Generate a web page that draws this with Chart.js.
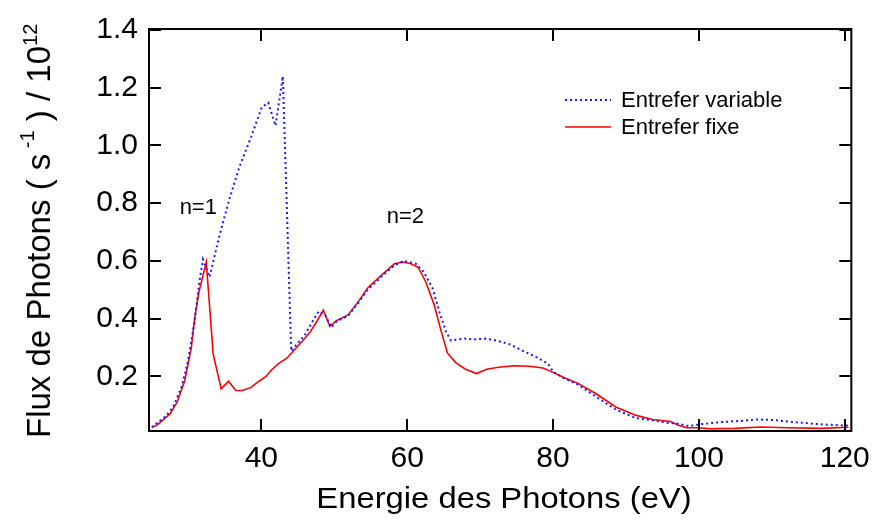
<!DOCTYPE html>
<html>
<head>
<meta charset="utf-8">
<script src="https://cdn.jsdelivr.net/npm/chart.js@4/dist/chart.umd.min.js"></script>
<style>
  html, body { margin: 0; padding: 0; background: #fff; }
  #chart { display: block; }
</style>
</head>
<body>
<canvas id="chart" width="880" height="525"></canvas>
<script>
/* ===============================
   DATA
   =============================== */
const energyVariable = [25.0, 25.5, 26.8, 27.9, 29.05, 29.95, 30.85, 31.5, 32.0, 32.9, 34.25, 35.6, 37.0, 38.6,
  40.05, 40.95, 41.95, 42.95, 44.1, 44.65, 46.0, 46.9, 47.85, 48.75, 49.6, 50.3, 51.9, 53.3, 54.6, 56.45, 58.25,
  59.6, 61.2, 62.3, 63.5, 64.4, 65.3, 66.0, 67.8, 69.1, 70.7, 72.3, 74.1, 75.9, 77.7, 79.3, 80.0, 81.4, 83.4,
  85.9, 88.6, 91.3, 93.6, 95.8, 97.2, 98.6, 100.4, 103.1, 105.8, 108.1, 110.3, 113.0, 116.2, 119.8, 120.5];
const fluxVariable = [0.024, 0.035, 0.06, 0.094, 0.162, 0.254, 0.39, 0.527, 0.605, 0.544, 0.687, 0.812, 0.926, 1.029,
  1.131, 1.148, 1.068, 1.239, 0.288, 0.305, 0.345, 0.385, 0.425, 0.413, 0.37, 0.39, 0.41, 0.455, 0.5, 0.545, 0.585,
  0.6, 0.59, 0.561, 0.504, 0.425, 0.356, 0.324, 0.331, 0.328, 0.331, 0.324, 0.311, 0.288, 0.267, 0.244, 0.217, 0.195, 0.172,
  0.13, 0.085, 0.056, 0.048, 0.039, 0.036, 0.028, 0.035, 0.042, 0.046, 0.051, 0.049, 0.042, 0.035, 0.030, 0.030];

const energyFixe = [25.0, 25.65, 26.5, 27.5, 28.45, 29.5, 30.4, 30.85, 31.45, 32.45, 33.4, 34.5, 35.5, 36.5, 37.4,
  38.6, 39.5, 40.6, 41.5, 42.4, 43.5, 44.4, 45.6, 46.6, 47.6, 48.5, 49.4, 50.3, 51.9, 53.3, 54.6, 56.45, 58.25,
  59.4, 60.5, 61.5, 62.55, 63.7, 64.6, 65.5, 66.65, 68.0, 69.5, 70.9, 72.3, 74.55, 76.8, 78.6, 80.0, 81.4, 83.4,
  85.9, 88.6, 91.3, 93.6, 96.1, 97.2, 98.35, 99.8, 101.7, 104.9, 108.5, 112.1, 116.7, 120.5];
const fluxFixe = [0.024, 0.031, 0.049, 0.071, 0.111, 0.185, 0.299, 0.40, 0.493, 0.596, 0.277, 0.157, 0.183, 0.151, 0.151,
  0.162, 0.18, 0.199, 0.225, 0.245, 0.263, 0.288, 0.322, 0.35, 0.39, 0.43, 0.373, 0.393, 0.413, 0.459, 0.507, 0.55, 0.59,
  0.596, 0.59, 0.578, 0.527, 0.448, 0.362, 0.282, 0.248, 0.225, 0.21, 0.225, 0.231, 0.237, 0.235, 0.229, 0.214, 0.197, 0.176,
  0.14, 0.094, 0.066, 0.051, 0.044, 0.031, 0.022, 0.022, 0.019, 0.02, 0.025, 0.022, 0.02, 0.024];

const xTicks = [40, 60, 80, 100, 120];
const yTicks = [0.2, 0.4, 0.6, 0.8, 1.0, 1.2, 1.4];

const seriesNames = ["Entrefer variable", "Entrefer fixe"];
const peakLabels = [
  { text: "n=1", x: 28.8, y: 0.785 },
  { text: "n=2", x: 57.2, y: 0.752 }
];

const BLUE = "#1a1aff";
const RED = "#ff0000";
const FONT = "'Liberation Sans', Arial, sans-serif";

const toPoints = (xs, ys) => xs.map((x, i) => ({ x, y: ys[i] }));

/* ===============================
   FRAME + INWARD TICKS
   =============================== */
const framePlugin = {
  id: "frame",
  afterDraw(c) {
    const { ctx, chartArea: a, scales } = c;
    ctx.save();
    ctx.strokeStyle = "#000";
    ctx.lineWidth = 2;
    ctx.strokeRect(a.left, a.top, a.right - a.left, a.bottom - a.top);
    const len = 12;
    ctx.beginPath();
    xTicks.forEach(v => {
      const px = Math.round(scales.x.getPixelForValue(v));
      ctx.moveTo(px, a.bottom); ctx.lineTo(px, a.bottom - len);
      ctx.moveTo(px, a.top); ctx.lineTo(px, a.top + len);
    });
    yTicks.forEach(v => {
      const py = Math.round(scales.y.getPixelForValue(v));
      ctx.moveTo(a.left, py); ctx.lineTo(a.left + len, py);
      ctx.moveTo(a.right, py); ctx.lineTo(a.right - len, py);
    });
    ctx.stroke();
    ctx.restore();
  }
};

/* ===============================
   TITLES, LEGEND, ANNOTATIONS
   =============================== */
const textPlugin = {
  id: "texts",
  afterDraw(c) {
    const { ctx, scales } = c;
    ctx.save();
    ctx.fillStyle = "#000";
    ctx.textBaseline = "alphabetic";

    // x title, a bit wide like the original
    ctx.save();
    ctx.translate(504, 508);
    ctx.scale(1.13, 1);
    ctx.font = `29px ${FONT}`;
    ctx.textAlign = "center";
    ctx.fillText("Energie des Photons (eV)", 0, 0);
    ctx.restore();

    // y title with superscripts
    ctx.save();
    ctx.translate(50, 438);
    ctx.rotate(-Math.PI / 2);
    ctx.textAlign = "left";
    const parts = [
      { t: "Flux de Photons ( s", size: 33, dy: 0 },
      { t: " -1", size: 20, dy: -16 },
      { t: " ) / 10", size: 33, dy: 0 },
      { t: "12", size: 20, dy: -13 }
    ];
    let pos = 0;
    parts.forEach(p => {
      ctx.font = `${p.size}px ${FONT}`;
      ctx.fillText(p.t, pos, p.dy);
      pos += ctx.measureText(p.t).width;
    });
    ctx.restore();

    // peak labels
    ctx.font = `22px ${FONT}`;
    ctx.textAlign = "left";
    ctx.textBaseline = "middle";
    peakLabels.forEach(l => {
      ctx.fillText(l.text, scales.x.getPixelForValue(l.x), scales.y.getPixelForValue(l.y));
    });

    // legend
    const rows = [
      { name: seriesNames[0], color: BLUE, dash: [2, 3], w: 2, y: 100 },
      { name: seriesNames[1], color: RED, dash: [], w: 1.6, y: 127 }
    ];
    rows.forEach(r => {
      ctx.save();
      ctx.strokeStyle = r.color;
      ctx.lineWidth = r.w;
      ctx.setLineDash(r.dash);
      ctx.beginPath();
      ctx.moveTo(565, r.y);
      ctx.lineTo(611, r.y);
      ctx.stroke();
      ctx.restore();
      ctx.font = `22px ${FONT}`;
      ctx.textBaseline = "middle";
      ctx.fillText(r.name, 621, r.y + 1);
    });
    ctx.restore();
  }
};

/* ===============================
   CHART
   =============================== */
new Chart(document.getElementById("chart"), {
  type: "line",
  data: {
    datasets: [
      {
        label: seriesNames[0],
        data: toPoints(energyVariable, fluxVariable),
        borderColor: BLUE,
        borderWidth: 2,
        borderDash: [2, 3],
        pointRadius: 0,
        tension: 0
      },
      {
        label: seriesNames[1],
        data: toPoints(energyFixe, fluxFixe),
        borderColor: RED,
        borderWidth: 1.6,
        pointRadius: 0,
        tension: 0
      }
    ]
  },
  options: {
    responsive: false,
    animation: false,
    layout: { padding: { top: 23, right: 22, left: 0, bottom: 0 } },
    plugins: {
      legend: { display: false },
      tooltip: { enabled: false }
    },
    scales: {
      x: {
        type: "linear",
        min: 24.6,
        max: 120.9,
        grid: { display: false, drawTicks: false },
        border: { display: false },
        afterBuildTicks: s => { s.ticks = xTicks.map(v => ({ value: v })); },
        afterFit: s => { s.height = 94; },
        ticks: {
          color: "#000",
          padding: 10,
          maxRotation: 0,
          font: { family: FONT, size: 30 },
          callback: v => String(v)
        }
      },
      y: {
        min: 0.011,
        max: 1.403,
        grid: { display: false, drawTicks: false },
        border: { display: false },
        afterBuildTicks: s => { s.ticks = yTicks.map(v => ({ value: v })); },
        afterFit: s => { s.width = 149; },
        ticks: {
          color: "#000",
          padding: 11,
          font: { family: FONT, size: 30 },
          callback: v => Number(v).toFixed(1)
        }
      }
    }
  },
  plugins: [framePlugin, textPlugin]
});
</script>
</body>
</html>
